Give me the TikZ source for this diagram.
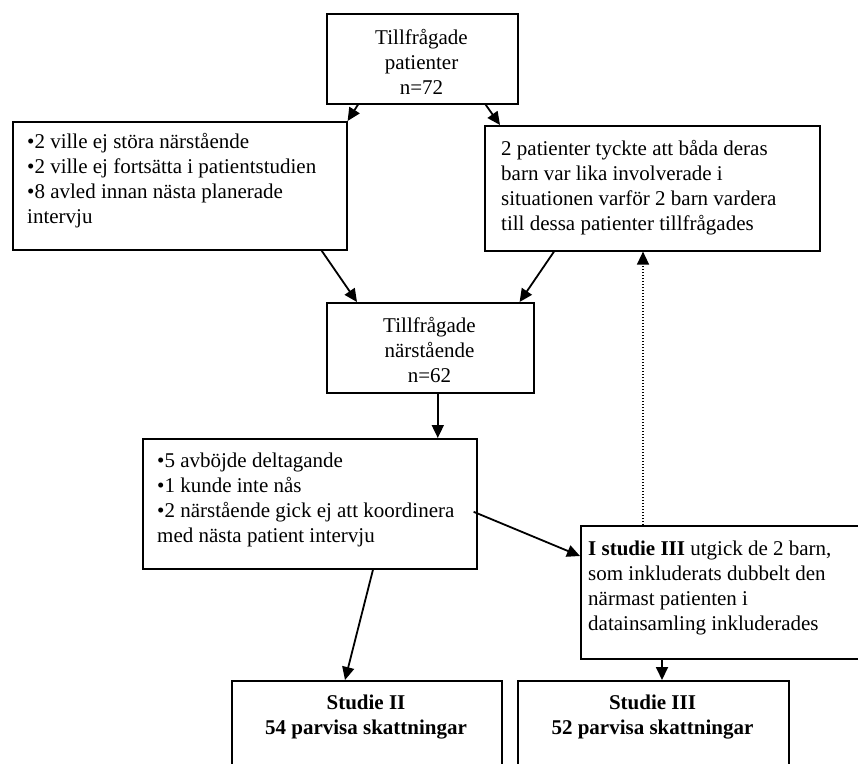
\documentclass[tikz,border=0pt]{standalone}
\usepackage{fontspec}
\setmainfont{Liberation Serif}
\usetikzlibrary{arrows.meta,calc}
\begin{document}
\begin{tikzpicture}[x=1pt,y=-1pt,
  box/.style={draw, line width=1.6pt, inner sep=0pt, anchor=north west},
  txt/.style={font=\fontsize{21}{25}\selectfont, inner sep=0pt},
  ltxt/.style={txt, align=left, anchor=north west},
  ctxt/.style={txt, align=center, anchor=center},
  btxt/.style={ctxt, font=\fontsize{21}{25}\selectfont\bfseries},
  arr/.style={line width=1.8pt, -{Triangle[length=13pt,width=12pt]}},
  dotarr/.style={line width=1.5pt, dash pattern=on 1.5pt off 1.5pt, -{Triangle[length=13pt,width=12pt]}}]
\useasboundingbox (0,0) rectangle (858,763);
\clip (0,0) rectangle (858,763);
\fill[white] (0,0) rectangle (858,763);

% boxes
\node[box, minimum width=191pt, minimum height=90pt] (top) at (326,13) {};
\node[box, minimum width=334pt, minimum height=128pt] (left) at (12,121) {};
\node[box, minimum width=335pt, minimum height=125pt] (right) at (484,125) {};
\node[box, minimum width=207pt, minimum height=90pt] (mid) at (326,302) {};
\node[box, minimum width=334pt, minimum height=130pt] (crit) at (142,438) {};
\node[box, minimum width=300pt, minimum height=133pt] (note) at (580,525) {};
\node[box, minimum width=270pt, minimum height=120pt] (s2) at (231,680) {};
\node[box, minimum width=271pt, minimum height=120pt] (s3) at (517,680) {};

% texts
\node[ctxt] (toptxt) at (421.5,62) {Tillfrågade\\patienter\\n=72};
\node[ltxt] (lefttxt) at (27,133.5) {•2 ville ej störa närstående\\•2 ville ej fortsätta i patientstudien\\•8 avled innan nästa planerade\\intervju};
\node[ltxt] (righttxt) at (501,140.5) {2 patienter tyckte att båda deras\\barn var lika involverade i\\situationen varför 2 barn vardera\\till dessa patienter tillfrågades};
\node[ctxt] (midtxt) at (429.5,350) {Tillfrågade\\närstående\\n=62};
\node[ltxt] (crittxt) at (157,452.5) {•5 avböjde deltagande\\•1 kunde inte nås\\•2 närstående gick ej att koordinera\\med nästa patient intervju};
\node[ltxt] (notetxt) at (588,540.5) {\textbf{I studie III} utgick de 2 barn,\\som inkluderats dubbelt den\\närmast patienten i\\datainsamling inkluderades};
\node[btxt] (s2txt) at (366,717.5) {Studie II\\54 parvisa skattningar};
\node[btxt] (s3txt) at (652.5,717.5) {Studie III\\52 parvisa skattningar};

% connectors
\draw[arr] ($(top.south west)+(32,0)$) -- (left.north east);
\draw[arr] ($(top.south east)+(-33,0)$) -- ($(right.north west)+(16,0)$);
\draw[arr] ($(left.south east)+(-26,0)$) -- ($(mid.north west)+(31,0)$);
\draw[arr] ($(right.south west)+(70,0)$) -- ($(mid.north east)+(-15,0)$);
\coordinate (m5) at ($(mid.south)+(7.5,0)$);
\draw[arr] (m5) -- (m5 |- crit.north);
\draw[arr] ($(crit.east)+(-4,8)$) -- ($(note.north west)+(0,31)$);
\draw[arr] ($(crit.south west)+(231,0)$) -- ($(s2.north west)+(114,0)$);
\draw[arr] ($(note.south west)+(82,0)$) -- ($(s3.north west)+(145,0)$);
\draw[dotarr] ($(note.north west)+(63,0)$) -- ($(right.south west)+(159,0)$);
\end{tikzpicture}
\end{document}
